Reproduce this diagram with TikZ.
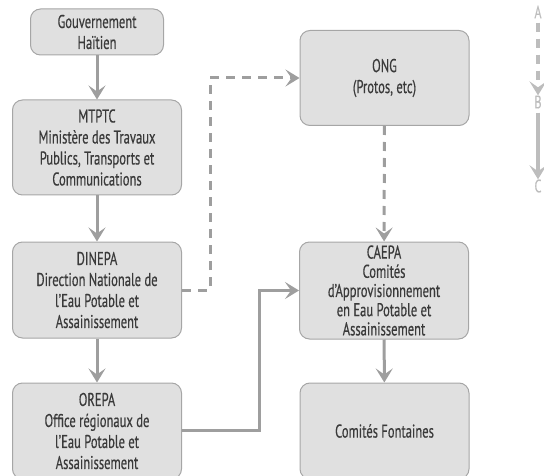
\documentclass[tikz,border=0pt]{standalone}
\usepackage{fontspec}
\setmainfont{PT Sans}[FakeStretch=0.68,FakeBold=0.4]
\usetikzlibrary{arrows.meta}
\definecolor{boxfill}{HTML}{E0E0E0}
\definecolor{boxline}{HTML}{A6A6A6}
\definecolor{arr}{HTML}{9E9E9E}
\definecolor{txt}{HTML}{3A3A3A}
\definecolor{leg}{HTML}{BDBDBD}
\begin{document}
\begin{tikzpicture}[x=1pt,y=-1pt,
  boxst/.style={draw=boxline,line width=1pt,fill=boxfill,rounded corners=10pt,
    text=txt,font=\fontsize{18.5}{21}\selectfont,align=center,inner sep=0pt},
  conn/.style={draw=arr,line width=3pt,-{Stealth[length=14pt,width=17pt,inset=6pt]}},
  dconn/.style={conn,dash pattern=on 9pt off 7pt},
  legt/.style={text=leg,font=\fontsize{18}{18}\selectfont,inner sep=0pt}
]
\useasboundingbox (0,0) rectangle (544,476);
\node[boxst,minimum width=133pt,minimum height=46pt] (gov) at (97,32) {Gouvernement\\Haïtien};
\node[boxst,minimum width=169pt,minimum height=95pt] (mtptc) at (97,147.5) {MTPTC\\Ministère des Travaux\\Publics, Transports et\\Communications};
\node[boxst,minimum width=169pt,minimum height=96pt] (dinepa) at (97,290) {DINEPA\\Direction Nationale de\\l’Eau Potable et\\Assainissement};
\node[boxst,minimum width=169pt,minimum height=96pt] (orepa) at (97,431) {OREPA\\Office régionaux de\\l’Eau Potable et\\Assainissement};
\node[boxst,minimum width=169pt,minimum height=95pt] (ong) at (384.5,78) {ONG\\(Protos, etc)};
\node[boxst,minimum width=169pt,minimum height=97pt,
  font=\fontsize{18.5}{19.2}\selectfont] (caepa) at (384,290.5) {CAEPA\\Comités\\d’Approvisionnement\\en Eau Potable et\\Assainissement};
\node[boxst,minimum width=169pt,minimum height=96pt] (cf) at (384.5,431) {Comités Fontaines};

\draw[conn] (gov) -- (mtptc);
\draw[conn] (mtptc) -- (dinepa);
\draw[conn] (dinepa) -- (orepa);
\draw[dconn] (dinepa.east) -- ++(28,0) |- (ong.west);
\draw[dconn] (ong) -- (caepa);
\draw[conn] (orepa.east |- 0,430) -- (259,430) |- (caepa.west);
\draw[conn] (caepa) -- (cf);

\node[legt] (la) at (538,12) {A};
\node[legt] (lb) at (538,102) {B};
\node[legt] (lc) at (538,186) {C};
\draw[conn,draw=leg,line width=3.5pt,dash pattern=on 9pt off 7pt,shorten <=4pt] (la) -- (lb);
\draw[conn,draw=leg,line width=3.5pt,shorten <=4pt] (lb) -- (lc);
\end{tikzpicture}
\end{document}
